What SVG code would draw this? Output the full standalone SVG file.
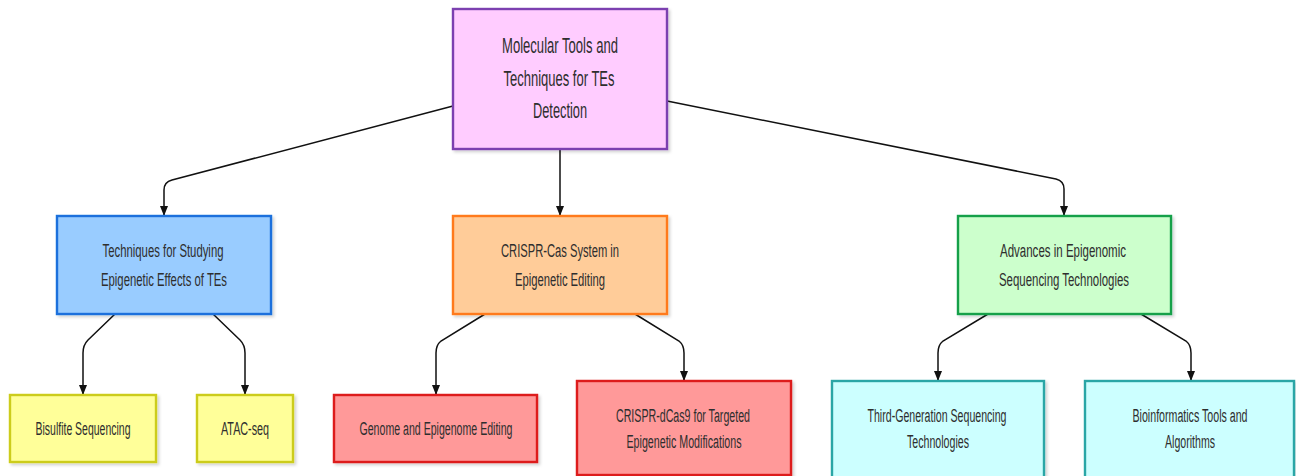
<svg xmlns="http://www.w3.org/2000/svg" width="1296" height="476" viewBox="0 0 1296 476">
  <defs>
    <filter id="shadow" x="-10%" y="-10%" width="125%" height="130%">
      <feDropShadow dx="2" dy="2" stdDeviation="1.6" flood-color="#000" flood-opacity="0.18"/>
    </filter>
    <marker id="arrow" markerUnits="userSpaceOnUse" markerWidth="10" markerHeight="8" viewBox="0 0 10 8" refX="10" refY="4" orient="auto">
      <path d="M0,0 L10,4 L0,8 z" fill="#111"/>
    </marker>
  </defs>
  <style>
    .box { stroke-width: 2.4; filter: url(#shadow); }
    .root { fill: #ffccff; stroke: #7b3fb0; }
    .blue { fill: #99ccff; stroke: #1a6fdc; }
    .orange { fill: #ffcc99; stroke: #ff7a1a; }
    .green { fill: #ccffcc; stroke: #16a04a; }
    .yellow { fill: #ffff99; stroke: #cccc1a; }
    .red { fill: #ff9999; stroke: #dd1a1a; }
    .cyan { fill: #ccffff; stroke: #2aa6a6; }
    text { font-family: "Liberation Sans", Arial, sans-serif; fill: #2e2e2e; text-anchor: middle; }
    .t-root { font-size: 22px; }
    .t { font-size: 18px; }
    .edge { fill: none; stroke: #111; stroke-width: 1.5; marker-end: url(#arrow); }
  </style>

  <g id="connectors">
    <path class="edge" d="M453,106 L172,180 Q164,182 164,190 L164,216"/>
    <path class="edge" d="M560,149 L560,216"/>
    <path class="edge" d="M667,101 L1056,179 Q1064,181 1064,189 L1064,216"/>
    <path class="edge" d="M115,314 L88,340 Q83,345 83,353 L83,395"/>
    <path class="edge" d="M213,314 L240,340 Q245,345 245,353 L245,395"/>
    <path class="edge" d="M485,314 L441,341 Q436,345 436,353 L436,395"/>
    <path class="edge" d="M635,314 L679,341 Q684,345 684,353 L684,381"/>
    <path class="edge" d="M988,314 L943,341 Q938,345 938,353 L938,381"/>
    <path class="edge" d="M1141,314 L1186,341 Q1191,345 1191,353 L1191,381"/>
  </g>

  <g id="root">
    <rect class="box root" x="453" y="9" width="214" height="140"/>
    <text class="t-root" x="560" y="53" textLength="116" lengthAdjust="spacingAndGlyphs">Molecular Tools and</text>
    <text class="t-root" x="559" y="86" textLength="111" lengthAdjust="spacingAndGlyphs">Techniques for TEs</text>
    <text class="t-root" x="560" y="118" textLength="54" lengthAdjust="spacingAndGlyphs">Detection</text>
  </g>

  <g id="epigenetic-effects">
    <rect class="box blue" x="57" y="216" width="214" height="98"/>
    <text class="t" x="163" y="257" textLength="121" lengthAdjust="spacingAndGlyphs">Techniques for Studying</text>
    <text class="t" x="164" y="286" textLength="126" lengthAdjust="spacingAndGlyphs">Epigenetic Effects of TEs</text>
  </g>

  <g id="crispr-cas">
    <rect class="box orange" x="453" y="216" width="214" height="98"/>
    <text class="t" x="560" y="257" textLength="118" lengthAdjust="spacingAndGlyphs">CRISPR-Cas System in</text>
    <text class="t" x="560" y="286" textLength="90" lengthAdjust="spacingAndGlyphs">Epigenetic Editing</text>
  </g>

  <g id="epigenomic-sequencing">
    <rect class="box green" x="958" y="216" width="213" height="98"/>
    <text class="t" x="1063" y="257" textLength="126" lengthAdjust="spacingAndGlyphs">Advances in Epigenomic</text>
    <text class="t" x="1064" y="286" textLength="130" lengthAdjust="spacingAndGlyphs">Sequencing Technologies</text>
  </g>

  <g id="bisulfite">
    <rect class="box yellow" x="10" y="395" width="146" height="67"/>
    <text class="t" x="83" y="435" textLength="95" lengthAdjust="spacingAndGlyphs">Bisulfite Sequencing</text>
  </g>

  <g id="atac-seq">
    <rect class="box yellow" x="197" y="395" width="96" height="67"/>
    <text class="t" x="245" y="435" textLength="48" lengthAdjust="spacingAndGlyphs">ATAC-seq</text>
  </g>

  <g id="genome-editing">
    <rect class="box red" x="334" y="395" width="203" height="67"/>
    <text class="t" x="436" y="435" textLength="153" lengthAdjust="spacingAndGlyphs">Genome and Epigenome Editing</text>
  </g>

  <g id="crispr-dcas9">
    <rect class="box red" x="577" y="381" width="214" height="94"/>
    <text class="t" x="683" y="422" textLength="134" lengthAdjust="spacingAndGlyphs">CRISPR-dCas9 for Targeted</text>
    <text class="t" x="684" y="448" textLength="115" lengthAdjust="spacingAndGlyphs">Epigenetic Modifications</text>
  </g>

  <g id="third-generation">
    <rect class="box cyan" x="832" y="381" width="212" height="97"/>
    <text class="t" x="937" y="422" textLength="139" lengthAdjust="spacingAndGlyphs">Third-Generation Sequencing</text>
    <text class="t" x="938" y="448" textLength="62" lengthAdjust="spacingAndGlyphs">Technologies</text>
  </g>

  <g id="bioinformatics">
    <rect class="box cyan" x="1085" y="381" width="209" height="97"/>
    <text class="t" x="1190" y="422" textLength="115" lengthAdjust="spacingAndGlyphs">Bioinformatics Tools and</text>
    <text class="t" x="1190" y="448" textLength="50" lengthAdjust="spacingAndGlyphs">Algorithms</text>
  </g>
</svg>
